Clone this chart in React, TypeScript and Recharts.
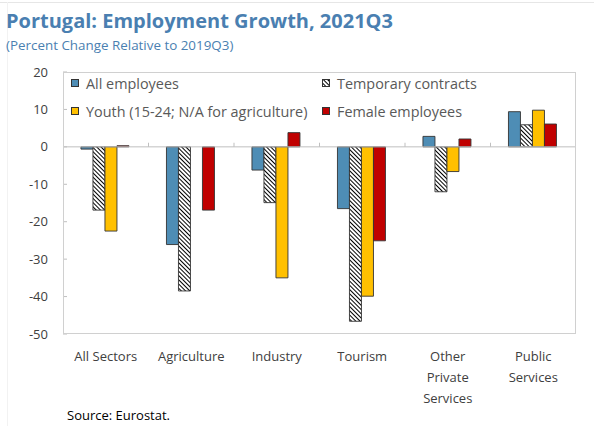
import React from 'react';
import { BarChart, Bar, XAxis, YAxis, ReferenceLine, Legend } from 'recharts';

const sectors = ['All Sectors', 'Agriculture', 'Industry', 'Tourism', 'Other Private Services', 'Public Services'];
const sectorLabelLines = [['All Sectors'], ['Agriculture'], ['Industry'], ['Tourism'], ['Other', 'Private', 'Services'], ['Public', 'Services']];
const allEmployees = [-0.6, -26.1, -6.2, -16.5, 2.8, 9.4];
const temporaryContracts = [-16.9, -38.5, -14.9, -46.6, -12.0, 5.9];
const youth: (number | null)[] = [-22.5, null, -35.0, -39.9, -6.6, 9.8];
const femaleEmployees = [0.3, -16.9, 3.8, -25.1, 2.1, 6.1];
const yTicks = [-50, -40, -30, -20, -10, 0, 10, 20];

const data = sectors.map((sector, i) => ({
  sector,
  all: allEmployees[i],
  temp: temporaryContracts[i],
  youth: youth[i],
  female: femaleEmployees[i],
}));

const series = [
  { key: 'all', name: 'All employees', fill: '#4e8db5' },
  { key: 'temp', name: 'Temporary contracts', fill: 'url(#hatch)' },
  { key: 'youth', name: 'Youth (15-24; N/A for agriculture)', fill: '#ffc000' },
  { key: 'female', name: 'Female employees', fill: '#c00000' },
];

const FONT = '"Open Sans", sans-serif';
const BLUE_TITLE = '#4a7fb1';
const GRID = '#bfbfbf';

// y-axis: labels outside, small tick marks pointing into the plot
const YTick = (props: any) => {
  const { x, y, payload } = props;
  return (
    <g>
      <line x1={x} x2={x + 4} y1={y} y2={y} stroke={GRID} />
      <text x={x - 15} y={y + 4.5} textAnchor="end" fontSize={13} fill="#404040" fontFamily={FONT}>
        {payload.value}
      </text>
    </g>
  );
};

const SectorTick = (props: any) => {
  const { x, y, index } = props;
  const lines = sectorLabelLines[index] || [props.payload.value];
  return (
    <text x={x} y={y + 26.5} textAnchor="middle" fontSize={13} fill="#404040" fontFamily={FONT}>
      {lines.map((l, i) => (
        <tspan key={i} x={x} dy={i === 0 ? 0 : 21}>
          {l}
        </tspan>
      ))}
    </text>
  );
};

const LegendBox = () => (
  <div
    style={{
      display: 'grid',
      gridTemplateColumns: '251px auto',
      gridAutoRows: '28px',
      fontFamily: FONT,
      fontSize: 14.4,
      color: '#595959',
    }}
  >
    {series.map(s => (
      <div key={s.key} style={{ display: 'flex', alignItems: 'center', whiteSpace: 'nowrap' }}>
        <svg width={8} height={8} style={{ marginRight: 7 }}>
          <rect x={0.5} y={0.5} width={7} height={7} fill={s.fill} stroke="#333" />
        </svg>
        {s.name}
      </div>
    ))}
  </div>
);

const App = () => {
  return (
    <div style={{ position: 'absolute', left: 0, top: 0, width: 594, height: 426, background: '#fff', overflow: 'hidden' }}>
      <svg width={0} height={0} style={{ position: 'absolute' }}>
        <defs>
          <pattern id="hatch" width={3} height={3} patternUnits="userSpaceOnUse" patternTransform="rotate(-45)">
            <rect width={3} height={3} fill="#fff" />
            <line x1={0.5} y1={0} x2={0.5} y2={3} stroke="#000" strokeWidth={1} />
          </pattern>
        </defs>
      </svg>
      <div style={{ position: 'absolute', left: 0, right: 0, top: 2, height: 1, background: '#e6e6e6' }} />
      <div style={{ position: 'absolute', left: 7, top: 2, bottom: 0, width: 1, background: '#f2f2f2' }} />
      <div
        style={{
          position: 'absolute',
          left: 6,
          top: 11,
          fontFamily: FONT,
          fontWeight: 700,
          fontSize: 20,
          lineHeight: 1,
          color: BLUE_TITLE,
          whiteSpace: 'nowrap',
        }}
      >
        Portugal: Employment Growth, 2021Q3
      </div>
      <div
        style={{
          position: 'absolute',
          left: 6,
          top: 38.5,
          fontFamily: FONT,
          fontSize: 13.4,
          lineHeight: 1,
          color: BLUE_TITLE,
          whiteSpace: 'nowrap',
        }}
      >
        (Percent Change Relative to 2019Q3)
      </div>

      <div style={{ position: 'absolute', left: 0, top: 0 }}>
        <BarChart
          width={594}
          height={426}
          data={data}
          margin={{ top: 72, right: 18, bottom: 22, left: 0 }}
          barCategoryGap="21%"
          barGap={0}
        >
          <XAxis
            dataKey="sector"
            interval={0}
            height={70}
            tickSize={0}
            tickMargin={0}
            axisLine={false}
            tickLine={false}
            tick={<SectorTick />}
          />
          <YAxis
            width={63}
            domain={[-50, 20]}
            ticks={yTicks}
            allowDataOverflow
            tickSize={0}
            tickMargin={0}
            axisLine={false}
            tickLine={false}
            tick={<YTick />}
          />
          <Legend
            layout="horizontal"
            verticalAlign="middle"
            align="center"
            content={<LegendBox />}
            wrapperStyle={{ top: 69, left: 71, width: 500, height: 56 }}
          />
          <ReferenceLine y={0} stroke={GRID} />
          {sectors.slice(0, sectors.length - 1).map(s => (
            <ReferenceLine
              key={s}
              segment={[
                { x: s, y: 0 },
                { x: s, y: 1.1 },
              ]}
              position="end"
              stroke={GRID}
            />
          ))}
          {series.map(s => (
            <Bar
              key={s.key}
              dataKey={s.key}
              name={s.name}
              fill={s.fill}
              stroke="#333"
              strokeWidth={0.9}
              isAnimationActive={false}
            />
          ))}
        </BarChart>
      </div>

      <div
        style={{
          position: 'absolute',
          left: 63,
          top: 72,
          width: 513,
          height: 262,
          boxSizing: 'border-box',
          border: `1px solid #d0d0d0`,
          pointerEvents: 'none',
        }}
      />

      <div
        style={{
          position: 'absolute',
          left: 67,
          top: 408,
          fontFamily: FONT,
          fontSize: 13,
          lineHeight: 1.2,
          color: '#000',
          whiteSpace: 'nowrap',
        }}
      >
        Source: Eurostat.
      </div>
    </div>
  );
};

export default App;
